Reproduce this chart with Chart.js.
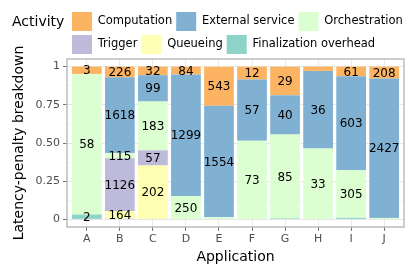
<!DOCTYPE html>
<html>
<head>
<meta charset="utf-8">
<script src="https://cdn.jsdelivr.net/npm/chart.js@4"></script>
<style>
	body { margin: 0; background: #fff; }
</style>
</head>
<body>
<canvas id="chart" width="417" height="274"></canvas>
<script>

var apps = ['A', 'B', 'C', 'D', 'E', 'F', 'G', 'H', 'I', 'J'];

// absolute values per activity (bottom of the stack first)
var finalization = [2, 15, 0, 0, 0, 0, 1, 0, 10, 0];
var queueing = [0, 164, 202, 0, 0, 0, 0, 0, 0, 0];
var trigger = [0, 1126, 57, 0, 0, 0, 0, 0, 0, 0];
var orchestration = [58, 115, 183, 250, 28, 73, 85, 33, 305, 25];
var external = [0, 1618, 99, 1299, 1554, 57, 40, 36, 603, 2427];
var computation = [3, 226, 32, 84, 543, 12, 29, 2, 61, 208];

var yTicks = [0, 0.25, 0.5, 0.75, 1];
var yTickLabels = ['0', '0.25', '0.50', '0.75', '1'];

var FONT = 'DejaVu Sans';

var series = [
	{ nome: 'Finalization overhead', valores: finalization, cor: '#8dd3c7' },
	{ nome: 'Queueing', valores: queueing, cor: '#ffffb3' },
	{ nome: 'Trigger', valores: trigger, cor: '#bebada' },
	{ nome: 'Orchestration', valores: orchestration, cor: '#dcffd2' },
	{ nome: 'External service', valores: external, cor: '#80b1d3' },
	{ nome: 'Computation', valores: computation, cor: '#fdb462' }
];

var totais = [];
for (var j = 0; j < apps.length; j++) {
	var t = 0;
	for (var s = 0; s < series.length; s++) {
		t = t + series[s].valores[j];
	}
	totais.push(t);
}

var datasets = [];
for (var s = 0; s < series.length; s++) {
	var pontos = [];
	for (var j = 0; j < apps.length; j++) {
		pontos.push({ x: j, y: series[s].valores[j] / totais[j] });
	}
	datasets.push({
		label: series[s].nome,
		data: pontos,
		backgroundColor: series[s].cor,
		borderWidth: 0,
		barPercentage: 0.9,
		categoryPercentage: 1.0
	});
}

// numbers inside the segments + panel border + legend title
var extras = {
	id: 'extras',
	beforeInit: function(chart) {
		var fitOriginal = chart.legend.fit;
		chart.legend.fit = function() {
			fitOriginal.bind(chart.legend)();
			this.height = 59;
		};
	},
	afterLayout: function(chart) {
		var lg = chart.legend;
		lg.left = 68;
		lg.right = 420;
		lg.top = 8;
	},
	afterDatasetsDraw: function(chart) {
		var ctx = chart.ctx;
		ctx.save();
		ctx.font = '12px "' + FONT + '"';
		ctx.fillStyle = '#000';
		ctx.textAlign = 'center';
		ctx.textBaseline = 'middle';
		for (var s = 0; s < series.length; s++) {
			var meta = chart.getDatasetMeta(s);
			for (var j = 0; j < apps.length; j++) {
				var v = series[s].valores[j];
				if (v / totais[j] < 0.03) continue;
				var el = meta.data[j];
				ctx.fillText(String(v), el.x, (el.y + el.base) / 2 + 1);
			}
		}
		ctx.restore();
	},
	afterDraw: function(chart) {
		var ctx = chart.ctx;
		var a = chart.chartArea;
		ctx.save();
		ctx.strokeStyle = '#b3b3b3';
		ctx.lineWidth = 1.3;
		ctx.strokeRect(a.left, a.top, a.right - a.left, a.bottom - a.top);
		ctx.font = '14px "' + FONT + '"';
		ctx.fillStyle = '#000';
		ctx.textAlign = 'left';
		ctx.textBaseline = 'middle';
		ctx.fillText('Activity', 12, 22);
		ctx.restore();
	}
};

var grafico = new Chart(document.getElementById('chart'), {
	type: 'bar',
	data: { datasets: datasets },
	plugins: [extras],
	options: {
		responsive: false,
		animation: false,
		devicePixelRatio: 1,
		layout: { padding: { left: 0, right: 13, top: 0, bottom: 0 } },
		plugins: {
			tooltip: { enabled: false },
			legend: {
				position: 'top',
				align: 'start',
				reverse: true,
				labels: {
					boxWidth: 20,
					boxHeight: 19,
					padding: 4,
					color: '#000',
					font: { family: FONT, size: 11.5 }
				}
			}
		},
		scales: {
			x: {
				type: 'linear',
				stacked: true,
				offset: false,
				min: -0.6,
				max: 9.6,
				afterFit: function(scale) { scale.height = 47; },
				afterBuildTicks: function(scale) {
					scale.ticks = apps.map(function(a, i) { return { value: i }; });
				},
				border: { display: false },
				grid: {
					offset: false,
					color: '#e6e6e6',
					lineWidth: 0.9,
					tickColor: '#666',
					tickLength: 4
				},
				ticks: {
					padding: 2,
					color: '#4d4d4d',
					font: { family: FONT, size: 11 },
					maxRotation: 0,
					callback: function(v) { return apps[v]; }
				},
				title: {
					display: true,
					text: 'Application',
					color: '#000',
					font: { family: FONT, size: 14 },
					padding: { top: 0, bottom: 8 }
				}
			},
			y: {
				stacked: true,
				min: -0.05,
				max: 1.05,
				afterFit: function(scale) { scale.width = 67; },
				afterBuildTicks: function(scale) {
					var t = [];
					for (var i = 0; i <= 8; i++) t.push({ value: i * 0.125 });
					scale.ticks = t;
				},
				border: { display: false },
				grid: {
					color: function(c) {
						return yTicks.indexOf(c.tick.value) >= 0 ? '#e3e3e3' : '#f0f0f0';
					},
					lineWidth: function(c) {
						return yTicks.indexOf(c.tick.value) >= 0 ? 0.9 : 0.6;
					},
					tickColor: function(c) {
						return yTicks.indexOf(c.tick.value) >= 0 ? '#666' : 'rgba(0,0,0,0)';
					},
					tickLength: 4
				},
				ticks: {
					padding: 3,
					color: '#4d4d4d',
					font: { family: FONT, size: 11 },
					callback: function(v) {
						var k = yTicks.indexOf(v);
						return k >= 0 ? yTickLabels[k] : '';
					}
				},
				title: {
					display: true,
					text: 'Latency-penalty breakdown',
					color: '#000',
					font: { family: FONT, size: 14 },
					padding: { top: 11, bottom: 0 }
				}
			}
		}
	}
});

</script>
</body>
</html>
